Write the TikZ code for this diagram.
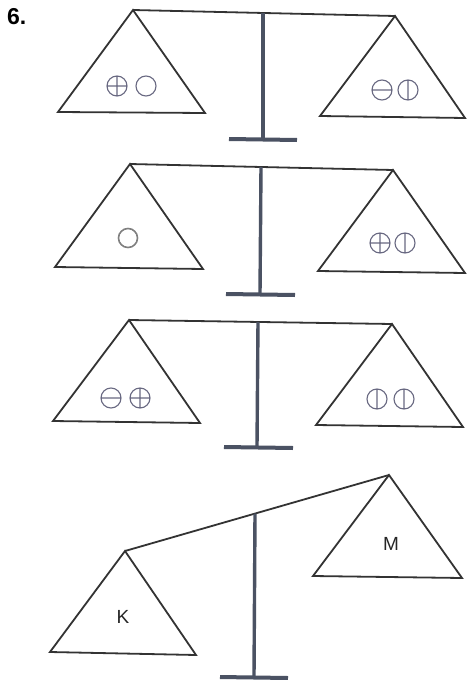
\documentclass[tikz,border=0pt]{standalone}
\usepackage{fontspec}
\setmainfont{Liberation Sans}
\begin{document}
\begin{tikzpicture}[x=1pt,y=-1pt,
  pan/.style={draw=black!80,line width=1.8pt,line join=miter},
  beam/.style={draw=black!80,line width=1.8pt},
  pole/.style={draw={rgb,255:red,75;green,82;blue,99},line width=3.4pt},
  foot/.style={draw={rgb,255:red,75;green,82;blue,99},line width=4pt},
  sym/.style={draw={rgb,255:red,105;green,105;blue,130},line width=1.1pt},
  symr/.pic={\draw[sym] (0,0) circle (10);},
  splus/.pic={\draw[sym] (0,0) circle (10) (-10,0)--(10,0) (0,-10)--(0,10);},
  sminus/.pic={\draw[sym] (0,0) circle (10) (-10,0)--(10,0);},
  svbar/.pic={\draw[sym] (0,0) circle (10) (0,-10)--(0,10);},
  lbl/.style={font=\fontsize{19}{21}\selectfont,text=black!85}
]
\useasboundingbox (0,0) rectangle (467,680);
\fill[white] (0,0) rectangle (467,680);
\node[font=\bfseries\fontsize{23}{25}\selectfont,anchor=north west,inner sep=0] (num) at (7,8) {6.};

% ---- scale 1
\coordinate (a1) at (133,10); \coordinate (b1) at (395,16);
\coordinate (p1) at (263,13);
\draw[beam] (a1) -- (b1);
\draw[pan] (a1) -- (58,112) -- (205,113) -- cycle;
\draw[pan] (b1) -- (320,116) -- (465,118) -- cycle;
\coordinate (f1) at (263,139);
\draw[pole] (p1) -- (f1);
\draw[foot] (229,139) -- (297,140);
\pic at (117,86) {splus};
\pic at (146,86) {symr};
\pic at (382,90) {sminus};
\pic at (408,90) {svbar};

% ---- scale 2
\coordinate (a2) at (130,164); \coordinate (b2) at (393,170);
\coordinate (p2) at (261,167);
\draw[beam] (a2) -- (b2);
\draw[pan] (a2) -- (55,267) -- (203,269) -- cycle;
\draw[pan] (b2) -- (318,271) -- (465,273) -- cycle;
\coordinate (f2) at (260,294);
\draw[pole] (p2) -- (f2);
\draw[foot] (226,294) -- (295,295);
\draw[draw=black!50,line width=1.6pt] (128,238) circle (9.5);
\pic at (380,243) {splus};
\pic at (405,243) {svbar};

% ---- scale 3
\coordinate (a3) at (129,320); \coordinate (b3) at (392,324);
\coordinate (p3) at (258,322);
\draw[beam] (a3) -- (b3);
\draw[pan] (a3) -- (53,421) -- (200,423) -- cycle;
\draw[pan] (b3) -- (316,425) -- (463,427) -- cycle;
\coordinate (f3) at (257,447);
\draw[pole] (p3) -- (f3);
\draw[foot] (224,447) -- (293,448);
\pic at (111,398) {sminus};
\pic at (140,398) {splus};
\pic at (377,399) {svbar};
\pic at (404,399) {svbar};

% ---- scale 4
\coordinate (a4) at (125,551); \coordinate (b4) at (389,475);
\coordinate (p4) at (255,513.6);
\draw[beam] (a4) -- (b4);
\draw[pan] (a4) -- (50,652) -- (196,655) -- cycle;
\draw[pan] (b4) -- (313,576) -- (462,578) -- cycle;
\coordinate (f4) at (254,677);
\draw[pole] (p4) -- (f4);
\draw[foot] (220,677) -- (288,678);
\node[lbl] (K) at (123,617) {K};
\node[lbl] (M) at (391,544) {M};
\end{tikzpicture}
\end{document}
